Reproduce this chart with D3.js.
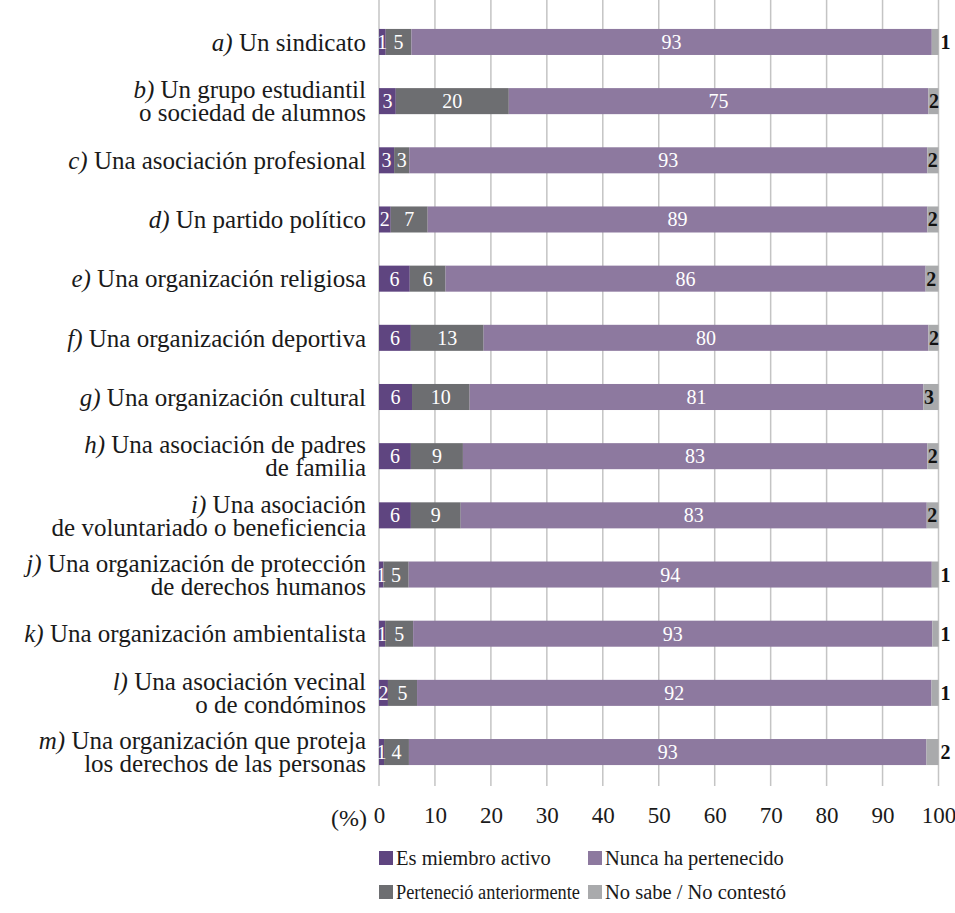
<!DOCTYPE html>
<html><head><meta charset="utf-8">
<script src="https://cdn.jsdelivr.net/npm/d3@7/dist/d3.min.js"></script>
</head><body style="margin:0"><svg id="c" width="955" height="913"></svg>
<script>
const letters = ["a)","b)","c)","d)","e)","f)","g)","h)","i)","j)","k)","l)","m)"];
const categories = [
  "Un sindicato",
  "Un grupo estudiantil\no sociedad de alumnos",
  "Una asociación profesional",
  "Un partido político",
  "Una organización religiosa",
  "Una organización deportiva",
  "Una organización cultural",
  "Una asociación de padres\nde familia",
  "Una asociación\nde voluntariado o beneficiencia",
  "Una organización de protección\nde derechos humanos",
  "Una organización ambientalista",
  "Una asociación vecinal\no de condóminos",
  "Una organización que proteja\nlos derechos de las personas"
];
const activo   = [1.2, 3.0, 2.7, 2.1, 5.5, 5.7, 5.9, 5.7, 5.7, 0.8, 1.1, 1.6, 0.9];
const anterior = [4.6, 20.2, 2.7, 6.6, 6.4, 13.0, 10.3, 9.3, 8.9, 4.5, 5.0, 5.2, 4.45];
const nunca    = [93.0, 75.0, 92.6, 89.3, 85.8, 79.5, 81.1, 83.0, 83.3, 93.5, 92.8, 91.95, 92.5];
const noSabe   = [1.2, 1.8, 2.0, 2.0, 2.3, 1.8, 2.7, 2.0, 2.1, 1.2, 1.1, 1.25, 2.15];
const seriesKeys = ["activo","anterior","nunca","noSabe"];
const seriesNames = ["Es miembro activo","Perteneció anteriormente","Nunca ha pertenecido","No sabe / No contestó"];
const xTicks = [0,10,20,30,40,50,60,70,80,90,100];
const outsideLabelRows = ["a)","j)","k)","l)","m)"];

const colors = {activo:"#5f4580", anterior:"#6d6e71", nunca:"#8d799f", noSabe:"#a9aaac"};
const FONT = "Liberation Serif";

const table = letters.map((l,i)=>({letter:l, label:categories[i], activo:activo[i], anterior:anterior[i], nunca:nunca[i], noSabe:noSabe[i]}));

const svg = d3.select("#c");
const x = d3.scaleLinear().domain([0,100]).range([379, 938.5]);
const y = d3.scaleBand().domain(letters).range([-4.2, 798.2]).paddingInner(0.56).paddingOuter(0.56);
const gridTop = 0, gridBottom = 786;

svg.append("g").selectAll("line").data(xTicks).join("line")
  .attr("x1", d=>x(d)).attr("x2", d=>x(d))
  .attr("y1", gridTop).attr("y2", gridBottom)
  .attr("stroke", "#c4c4c4").attr("stroke-width", 1.5);

const stack = d3.stack().keys(seriesKeys)(table);
const bars = svg.append("g");
stack.forEach(s => {
  bars.append("g").attr("fill", colors[s.key]).selectAll("rect").data(s).join("rect")
    .attr("x", d=>x(d[0])).attr("width", d=>x(d[1])-x(d[0]))
    .attr("y", d=>y(d.data.letter)).attr("height", y.bandwidth());
});

stack.slice(0,3).forEach(s => {
  svg.append("g").selectAll("text").data(s).join("text")
    .attr("x", d=>(x(d[0])+x(d[1]))/2)
    .attr("y", d=>y(d.data.letter)+y.bandwidth()/2)
    .attr("dy","0.35em").attr("text-anchor","middle")
    .attr("fill","#fff").style("font-family",FONT).style("font-size","20px")
    .text(d=>Math.round(d[1]-d[0]));
});
svg.append("g").selectAll("text").data(stack[3]).join("text")
  .attr("x", d=> outsideLabelRows.includes(d.data.letter) ? x(100)+2 : x(d[0])+0.5)
  .attr("y", d=>y(d.data.letter)+y.bandwidth()/2)
  .attr("dy","0.35em").attr("text-anchor","start")
  .attr("fill","#111").style("font-family",FONT).style("font-size","20px").style("font-weight","bold")
  .text(d=>Math.round(d[1]-d[0]));

table.forEach(d => {
  const lines = d.label.split("\n");
  const cy = y(d.letter)+y.bandwidth()/2;
  const lh = 23;
  lines.forEach((ln, j) => {
    const t = svg.append("text").attr("x", 366).attr("text-anchor","end")
      .attr("y", cy + (j - (lines.length-1)/2)*lh).attr("dy","0.35em")
      .attr("fill","#1a1a1a").style("font-family",FONT).style("font-size","25px");
    if (j===0) t.append("tspan").style("font-style","italic").text(d.letter+" ");
    t.append("tspan").text(ln);
  });
});

const ax = svg.append("g").attr("transform", `translate(0,${gridBottom})`)
  .call(d3.axisBottom(x).tickValues(xTicks).tickSize(0).tickPadding(21).tickFormat(d3.format("d")));
ax.select(".domain").remove();
ax.selectAll("text").style("font-family",FONT).style("font-size","23px").attr("fill","#1a1a1a");
svg.append("text").attr("x", x(0)-12).attr("y", gridBottom+32).attr("dy","0.35em")
  .attr("text-anchor","end").style("font-family",FONT).style("font-size","24px").attr("fill","#1a1a1a").text("(%)");

const legPos = [[379,858],[379,892],[588,858],[588,892]];
seriesKeys.forEach((k,i) => {
  const [lx,ly] = legPos[i];
  svg.append("rect").attr("x", lx).attr("y", ly-7).attr("width",14).attr("height",14).attr("fill", colors[k]);
  const t = svg.append("text").attr("x", lx+17).attr("y", ly).attr("dy","0.35em")
    .style("font-family",FONT).style("font-size","20.5px").attr("fill","#1a1a1a").text(seriesNames[i]);
  const avail = (i < 2 ? legPos[2][0] - 8 : 955 - 4) - (lx+17);
  const w = t.node().getComputedTextLength();
  if (w > avail) t.attr("textLength", avail).attr("lengthAdjust","spacingAndGlyphs");
});
</script></body></html>
